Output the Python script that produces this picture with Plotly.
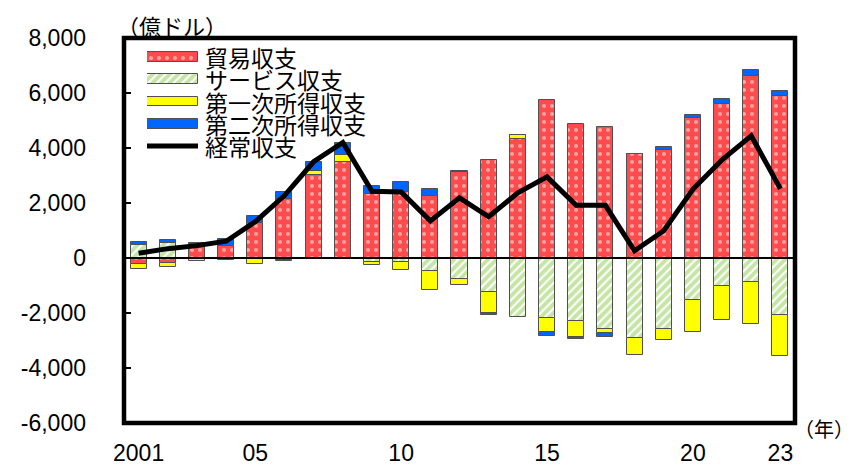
import plotly.graph_objects as go

years = list(range(2001, 2024))
trade = [-217, -165, 500, 440, 1270, 2140, 3015, 3473, 2330, 2400, 2255, 3140,
         3580, 4330, 5753, 4884, 4752, 3800, 3920, 5090, 5610, 6610, 5900]
services = [480, 545, -20, -40, -20, -60, 0, 0, -157, -145, -480, -760,
            -1220, -2130, -2170, -2300, -2580, -2910, -2595, -1510, -1000, -860, -2065]
primary = [-190, -157, -96, -30, -190, -50, 157, 265, -84, -277, -700, -217,
           -772, 157, -520, -567, -145, -627, -398, -1182, -1242, -1556, -1483]
secondary = [108, 108, 60, 241, 241, 277, 326, 446, 302, 380, 250, 30,
             -96, 0, -133, -96, -145, 0, 121, 100, 181, 229, 170]
current = [175, 340, 450, 610, 1320, 2270, 3500, 4200, 2430, 2400, 1350, 2190,
           1500, 2370, 2950, 1915, 1915, 260, 990, 2500, 3570, 4440, 2520]

series_names = ["貿易収支", "サービス収支", "第一次所得収支", "第二次所得収支", "経常収支"]
x_tickvals = [2001, 2005, 2010, 2015, 2020, 2023]
x_ticktext = ["2001", "05", "10", "15", "20", "23"]
y_tickvals = [-6000, -4000, -2000, 0, 2000, 4000, 6000, 8000]
y_ticktext = ["-6,000", "-4,000", "-2,000", "0", "2,000", "4,000", "6,000", "8,000"]

RED = "#FF4B4B"
GREEN = "#8CCB4C"
YELLOW = "#FFFF00"
BLUE = "#0066FF"
EDGE = "#505050"
CJK = "Noto Sans CJK JP"
LAT = "Liberation Sans, Arial, sans-serif"

styles = [
    dict(color=RED, pattern=dict(shape=".", fgcolor="white", size=8, solidity=0.2, fillmode="overlay")),
    dict(color="white", pattern=dict(shape="/", fgcolor=GREEN, size=6, solidity=0.65, fillmode="overlay")),
    dict(color=YELLOW),
    dict(color=BLUE),
]

fig = go.Figure()
for vals, st, nm in zip([trade, services, primary, secondary], styles, series_names[:4]):
    fig.add_trace(go.Bar(
        x=years, y=vals, name=nm, width=0.55,
        marker=dict(line=dict(color=EDGE, width=1), **st),
        showlegend=False,
    ))
fig.add_trace(go.Scatter(
    x=years, y=current, name=series_names[4], mode="lines",
    line=dict(color="black", width=5), showlegend=False,
))

# custom legend (swatches drawn on an overlay axis)
for k, (st, nm) in enumerate(zip(styles, series_names[:4])):
    fig.add_trace(go.Bar(
        x=[1], y=[k], base=0, orientation="h", width=0.45,
        marker=dict(line=dict(color=EDGE, width=1), **st),
        xaxis="x2", yaxis="y2", showlegend=False, hoverinfo="skip",
    ))
fig.add_trace(go.Scatter(
    x=[0, 1], y=[4, 4], mode="lines", line=dict(color="black", width=5),
    xaxis="x2", yaxis="y2", showlegend=False, hoverinfo="skip",
))
for k, nm in enumerate(series_names):
    fig.add_annotation(x=1, y=k, xref="x2", yref="y2", text=nm, showarrow=False,
                       xanchor="left", yanchor="middle", xshift=5,
                       font=dict(family=CJK, size=23, color="black"))

fig.add_annotation(x=0.072, y=1.034, xref="paper", yref="paper", text="（億ドル）",
                   showarrow=False, xanchor="center", yanchor="middle",
                   font=dict(family=CJK, size=22, color="black"))
fig.add_annotation(x=1.043, y=-0.013, xref="paper", yref="paper", text="（年）",
                   showarrow=False, xanchor="center", yanchor="middle",
                   font=dict(family=CJK, size=20, color="black"))

# frame and zero line
fig.add_shape(type="line", xref="paper", x0=0, x1=1, yref="y", y0=0, y1=0,
              line=dict(color="black", width=2), layer="above")
fig.add_shape(type="rect", xref="paper", yref="paper", x0=0, x1=1, y0=0, y1=1,
              line=dict(color="black", width=4.5), layer="above")

fig.update_layout(
    width=850, height=460,
    margin=dict(l=116, r=63.3, t=30, b=45, autoexpand=False),
    paper_bgcolor="white", plot_bgcolor="white",
    barmode="relative", bargap=0,
    font=dict(family=LAT, size=23, color="black"),
    xaxis=dict(range=[2000.5, 2023.5], tickvals=x_tickvals, ticktext=x_ticktext,
               showgrid=False, zeroline=False, showline=False, ticks="", automargin=False,
               tickfont=dict(family=LAT, size=23, color="black"), ticklabelstandoff=14),
    yaxis=dict(range=[-6000, 8000], tickvals=y_tickvals, ticktext=y_ticktext,
               showgrid=False, zeroline=False, showline=False, automargin=False,
               ticks="inside", ticklen=7, tickwidth=1.5, tickcolor="black",
               tickfont=dict(family=LAT, size=23, color="black"), ticklabelstandoff=37),
    xaxis2=dict(domain=[0.0343, 0.1104], anchor="y2", range=[0, 1], visible=False,
                fixedrange=True),
    yaxis2=dict(domain=[0.6909, 0.9792], anchor="x2", range=[4.5, -0.5], visible=False,
                fixedrange=True),
)

fig.write_html("out.html")
